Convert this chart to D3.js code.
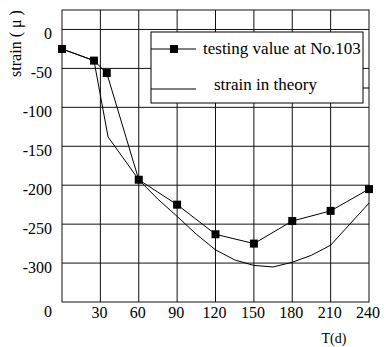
<!DOCTYPE html>
<html>
<head>
<meta charset="utf-8">
<script src="https://cdn.jsdelivr.net/npm/d3@7"></script>
<style>
  body { margin: 0; background: #fff; }
</style>
</head>
<body>
<svg id="chart" width="386" height="347" font-family="'Liberation Serif', 'Times New Roman', Times, serif"></svg>
<script>
// measured values
var testDays = [0, 25, 35, 60, 90, 120, 150, 180, 210, 240];
var testStrain = [-25, -40, -56, -193, -225, -263, -275, -246, -233, -205];

var theoryDays = [0, 25, 36, 60, 75, 90, 105, 120, 135, 150, 165, 180, 195, 210, 225, 240];
var theoryStrain = [-25, -40, -138, -193, -218, -240, -263, -283, -296, -303, -305, -299, -290, -277, -250, -223];

var xTicks = [30, 60, 90, 120, 150, 180, 210, 240];
var yTicks = [0, -50, -100, -150, -200, -250, -300];

var svg = d3.select("#chart");

// plot box (window.top is read-only, so don't call it "top")
var plotLeft = 62, plotRight = 369, plotTop = 10, plotBottom = 302;

var xScale = d3.scaleLinear().domain([0, 240]).range([plotLeft, plotRight]);
var yScale = d3.scaleLinear().domain([-350, 25]).range([plotBottom, plotTop]);

//grid lines
var grid = svg.append("g").attr("stroke", "#111").attr("stroke-width", 1);
xTicks.slice(0, -1).forEach(function (d) {
  grid.append("line")
    .attr("x1", xScale(d)).attr("x2", xScale(d))
    .attr("y1", plotTop).attr("y2", plotBottom);
});
yTicks.forEach(function (d) {
  grid.append("line")
    .attr("x1", plotLeft).attr("x2", plotRight)
    .attr("y1", yScale(d)).attr("y2", yScale(d));
});

//frame
svg.append("rect")
  .attr("x", plotLeft).attr("y", plotTop)
  .attr("width", plotRight - plotLeft).attr("height", plotBottom - plotTop)
  .attr("fill", "none").attr("stroke", "#111").attr("stroke-width", 1);

//y tick labels, sitting a bit below each line
yTicks.forEach(function (d) {
  svg.append("text")
    .attr("x", 52).attr("y", yScale(d) + 10)
    .attr("text-anchor", "end")
    .attr("font-size", 16)
    .text(d);
});

//x tick labels
xTicks.forEach(function (d) {
  svg.append("text")
    .attr("x", xScale(d) - 1).attr("y", 318)
    .attr("text-anchor", "middle")
    .attr("font-size", 16)
    .text(d);
});
svg.append("text")
  .attr("x", 48).attr("y", 317)
  .attr("text-anchor", "middle")
  .attr("font-size", 16)
  .text("0");

//axis titles
svg.append("text")
  .attr("x", 334).attr("y", 343)
  .attr("text-anchor", "middle")
  .attr("font-size", 14)
  .text("T(d)");

svg.append("text")
  .attr("transform", "translate(21,43.5)rotate(-90)")
  .attr("text-anchor", "middle")
  .attr("font-size", 16)
  .text("strain ( \u03bc )");

//theory line
var theory = theoryDays.map(function (d, i) { return [d, theoryStrain[i]]; });
var line = d3.line()
  .x(function (d) { return xScale(d[0]); })
  .y(function (d) { return yScale(d[1]); });

svg.append("path")
  .datum(theory)
  .attr("d", line)
  .attr("fill", "none").attr("stroke", "#000").attr("stroke-width", 1);

//testing line + markers
var test = testDays.map(function (d, i) { return [d, testStrain[i]]; });
svg.append("path")
  .datum(test)
  .attr("d", line)
  .attr("fill", "none").attr("stroke", "#000").attr("stroke-width", 1);

svg.selectAll("rect.marker")
  .data(test)
  .enter().append("rect")
  .attr("class", "marker")
  .attr("x", function (d) { return xScale(d[0]) - 4; })
  .attr("y", function (d) { return yScale(d[1]) - 4; })
  .attr("width", 8).attr("height", 8)
  .attr("fill", "#000");

//legend
var legend = svg.append("g");
legend.append("rect")
  .attr("x", 151).attr("y", 32)
  .attr("width", 212).attr("height", 71)
  .attr("fill", "#fff").attr("stroke", "#000").attr("stroke-width", 1);

legend.append("line")
  .attr("x1", 151).attr("x2", 196).attr("y1", 49).attr("y2", 49)
  .attr("stroke", "#000");
legend.append("rect")
  .attr("x", 170).attr("y", 45).attr("width", 8).attr("height", 8)
  .attr("fill", "#000");
legend.append("text")
  .attr("x", 203).attr("y", 54)
  .attr("font-size", 17)
  .text("testing value at No.103");

legend.append("line")
  .attr("x1", 151).attr("x2", 196).attr("y1", 89).attr("y2", 89)
  .attr("stroke", "#000");
legend.append("text")
  .attr("x", 214).attr("y", 90)
  .attr("font-size", 17)
  .text("strain in theory");
//little stub poking out to the right of the legend box
legend.append("line")
  .attr("x1", 363).attr("x2", plotRight).attr("y1", 88).attr("y2", 88)
  .attr("stroke", "#000");
</script>
</body>
</html>
